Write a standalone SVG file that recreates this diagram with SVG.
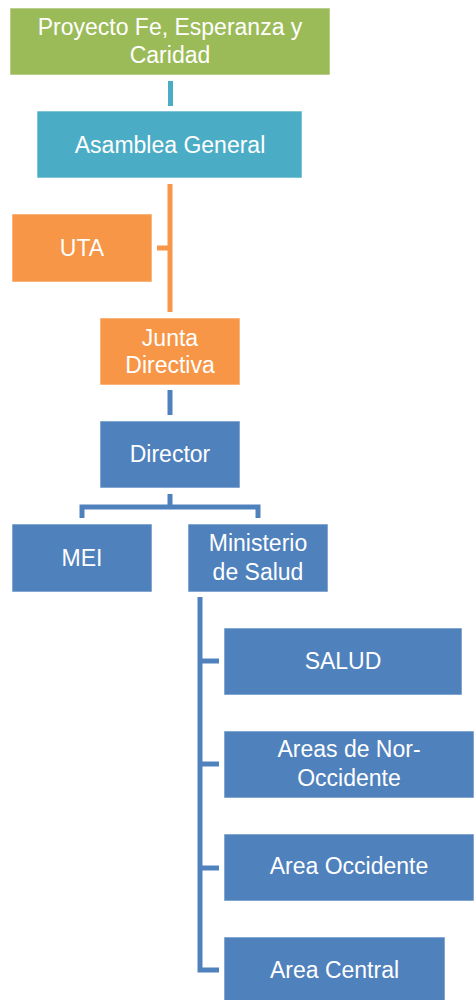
<svg xmlns="http://www.w3.org/2000/svg" width="474" height="1000" viewBox="0 0 474 1000">
<style>
.box{stroke:#ffffff;stroke-width:1;stroke-opacity:0.6}
.green{fill:#9BBB59}
.teal{fill:#4BACC6}
.orange{fill:#F79646}
.blue{fill:#4F81BD}
text{font-family:"Liberation Sans",Arial,sans-serif;font-size:23px;fill:#ffffff;text-anchor:middle}
.c{fill:none;stroke-width:5;stroke-linejoin:miter}
</style>
<rect width="474" height="1000" fill="#ffffff"/>
<g id="connectors">
<line class="c" x1="170.5" y1="81" x2="170.5" y2="106" stroke="#4BACC6"/>
<line class="c" x1="170" y1="184" x2="170" y2="312" stroke="#F79646"/>
<line class="c" x1="157" y1="248" x2="170" y2="248" stroke="#F79646"/>
<line class="c" x1="170" y1="390" x2="170" y2="415" stroke="#4F81BD"/>
<path class="c" d="M170 494 V507 M82 518 V507 H258 V518" stroke="#4F81BD"/>
<path class="c" d="M200 597 V970 H219 M200 661 H219 M200 764 H219 M200 868 H219" stroke="#4F81BD"/>
</g>
<g id="proyecto"><rect class="box green" x="10" y="8" width="320" height="67"/><text x="170" y="35">Proyecto Fe, Esperanza y</text><text x="170" y="63">Caridad</text></g>
<g id="asamblea"><rect class="box teal" x="37" y="111" width="265" height="67"/><text x="170" y="153">Asamblea General</text></g>
<g id="uta"><rect class="box orange" x="12" y="214" width="140" height="68"/><text x="82" y="256">UTA</text></g>
<g id="junta"><rect class="box orange" x="100" y="318" width="140" height="67"/><text x="170" y="346">Junta</text><text x="170" y="373">Directiva</text></g>
<g id="director"><rect class="box blue" x="100" y="421" width="140" height="67"/><text x="170" y="462">Director</text></g>
<g id="mei"><rect class="box blue" x="12" y="524" width="140" height="68"/><text x="82" y="566">MEI</text></g>
<g id="ministerio"><rect class="box blue" x="188" y="524" width="140" height="68"/><text x="258" y="551">Ministerio</text><text x="258" y="580">de Salud</text></g>
<g id="salud"><rect class="box blue" x="224" y="628" width="238" height="67"/><text x="343" y="669">SALUD</text></g>
<g id="nor-occidente"><rect class="box blue" x="224" y="731" width="250" height="67"/><text x="349" y="757">Areas de Nor-</text><text x="349" y="786">Occidente</text></g>
<g id="occidente"><rect class="box blue" x="224" y="834" width="250" height="67"/><text x="349" y="874">Area Occidente</text></g>
<g id="central"><rect class="box blue" x="224" y="937" width="221" height="70"/><text x="334.5" y="978">Area Central</text></g>
</svg>
